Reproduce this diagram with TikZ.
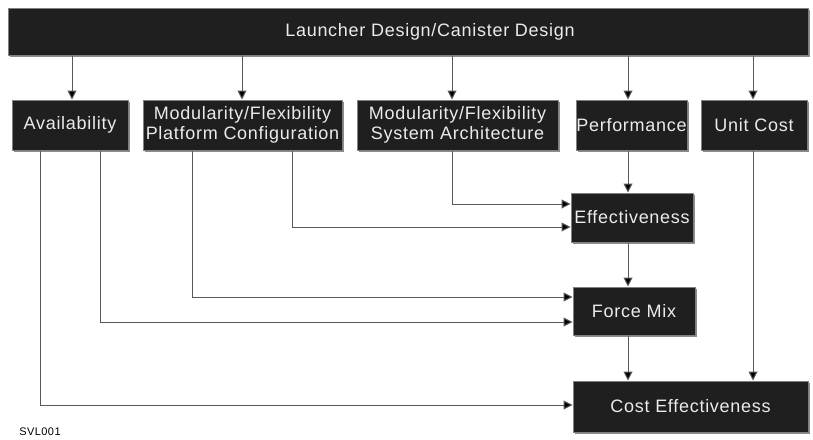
\documentclass[tikz,border=0pt]{standalone}
\usepackage{fontspec}
\setmainfont{Liberation Sans}[LetterSpace=4]
\usetikzlibrary{arrows.meta,shadows}
\begin{document}
\begin{tikzpicture}[x=1pt,y=-1pt,
  boxst/.style={rectangle, fill=black!88, draw=black!50, line width=1pt, text=white!92!black,
    inner sep=0pt, align=center, font=\fontsize{18}{20.5}\selectfont,
    drop shadow={shadow xshift=1.5pt, shadow yshift=-1.5pt, fill=black!45, opacity=1}},
  conn/.style={draw=black!65, line width=1pt, -{Triangle[length=9pt,width=9pt,fill=black]}}
]
\useasboundingbox (0,0) rectangle (813,439);
\node[boxst, minimum width=800pt, minimum height=47pt] (top) at (408,31.5) {\hspace*{44pt}Launcher Design/Canister Design};
\node[boxst, minimum width=116pt, minimum height=50pt] (avail) at (70,125) {Availability};
\node[boxst, minimum width=199pt, minimum height=50pt] (plat) at (242.5,125) {Modularity/Flexibility\\Platform Configuration};
\node[boxst, minimum width=201pt, minimum height=50pt] (sys) at (457.5,125) {Modularity/Flexibility\\System Architecture};
\node[boxst, minimum width=111pt, minimum height=50pt] (perf) at (631.5,125) {Performance};
\node[boxst, minimum width=106pt, minimum height=50pt] (unit) at (754,125) {Unit Cost};
\node[boxst, minimum width=122pt, minimum height=49pt] (eff) at (632,217.5) {Effectiveness};
\node[boxst, minimum width=122pt, minimum height=48pt] (force) at (634,311) {Force Mix};
\node[boxst, minimum width=235pt, minimum height=51pt] (cost) at (690.5,406.5) {Cost Effectiveness};
\node[font=\fontsize{11}{12}\selectfont, inner sep=0pt] (svl) at (40,432) {SVL001};
% from top bar
\draw[conn] (top.south -| 72,0) -- (avail.north -| 72,0);
\draw[conn] (top.south -| 242,0) -- (plat.north -| 242,0);
\draw[conn] (top.south -| 452,0) -- (sys.north -| 452,0);
\draw[conn] (top.south -| 628,0) -- (perf.north -| 628,0);
\draw[conn] (top.south -| 753,0) -- (unit.north -| 753,0);
% to effectiveness
\draw[conn] (sys.south -| 452,0) |- (eff.west |- 0,204);
\draw[conn] (plat.south -| 292,0) |- (eff.west |- 0,227);
\draw[conn] (perf.south -| 628,0) -- (eff.north -| 628,0);
% to force mix
\draw[conn] (plat.south -| 192,0) |- (force.west |- 0,297);
\draw[conn] (avail.south -| 100,0) |- (force.west |- 0,322);
\draw[conn] (eff.south -| 628,0) -- (force.north -| 628,0);
% to cost effectiveness
\draw[conn] (avail.south -| 40,0) |- (cost.west |- 0,405);
\draw[conn] (force.south -| 628,0) -- (cost.north -| 628,0);
\draw[conn] (unit.south -| 753,0) -- (cost.north -| 753,0);
\end{tikzpicture}
\end{document}
